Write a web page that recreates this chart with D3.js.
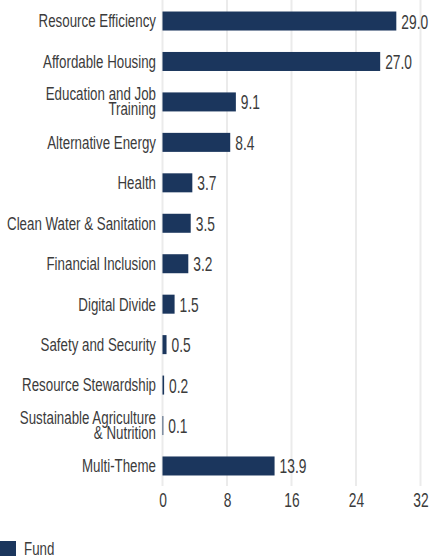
<!DOCTYPE html>
<html>
  <meta charset="utf-8" />
  <head>
    <script src="https://d3js.org/d3.v7.min.js"></script>
    <style>
      body {
        margin: 0;
        background: #fff;
      }
      svg text {
        font-family: "Liberation Sans", Arial, sans-serif;
        fill: #3b3b3b;
      }
    </style>
  </head>
  <body>
    <svg id="chart" width="431" height="556"></svg>

    <script>
      // sector labels, "\n" splits a label onto two lines
      const sectors = [
        "Resource Efficiency",
        "Affordable Housing",
        "Education and Job\nTraining",
        "Alternative Energy",
        "Health",
        "Clean Water & Sanitation",
        "Financial Inclusion",
        "Digital Divide",
        "Safety and Security",
        "Resource Stewardship",
        "Sustainable Agriculture\n& Nutrition",
        "Multi-Theme",
      ];
      const fundValues = [29.0, 27.0, 9.1, 8.4, 3.7, 3.5, 3.2, 1.5, 0.5, 0.2, 0.1, 13.9];
      const xTicks = [0, 8, 16, 24, 32];
      const seriesName = "Fund";

      const barColor = "#1b365d";
      // no condensed face installed, so squeeze text horizontally
      const squeeze = 0.69;
      const squeezeLabel = 0.72;

      const svg = d3.select("#chart");

      const x = d3.scaleLinear().domain([0, 32]).range([162.5, 420.5]);
      const y = d3
        .scaleBand()
        .domain(sectors)
        .range([1, 486])
        .paddingInner(0.53)
        .paddingOuter(0.26);

      // gridlines
      svg
        .append("g")
        .selectAll("line")
        .data(xTicks)
        .enter()
        .append("line")
        .attr("x1", (d) => x(d))
        .attr("x2", (d) => x(d))
        .attr("y1", 0)
        .attr("y2", 486)
        .attr("stroke", "#ebebeb")
        .attr("stroke-width", 2);

      // x axis labels
      const xAxis = svg
        .append("g")
        .attr("transform", "translate(0,486)")
        .attr("font-family", null)
        .attr("font-size", null)
        .call(d3.axisBottom(x).tickValues(xTicks).tickSize(0));
      xAxis.select(".domain").remove();
      xAxis
        .selectAll("text")
        .attr("y", 0)
        .attr("dy", null)
        .attr("font-size", 20)
        .attr("transform", `translate(0,20.5) scale(${squeeze},1)`);

      // bars
      svg
        .append("g")
        .selectAll("rect")
        .data(fundValues)
        .enter()
        .append("rect")
        .attr("x", x(0))
        .attr("y", (d, i) => y(sectors[i]))
        .attr("width", (d) => x(d) - x(0))
        .attr("height", y.bandwidth())
        .attr("fill", barColor);

      // value labels
      svg
        .append("g")
        .selectAll("text")
        .data(fundValues)
        .enter()
        .append("text")
        .attr("font-size", 20)
        .attr(
          "transform",
          (d, i) =>
            `translate(${x(d) + 5},${y(sectors[i]) + y.bandwidth() / 2 + 7.5}) scale(${squeeze},1)`
        )
        .text((d) => d.toFixed(1));

      // category labels
      const cat = svg
        .append("g")
        .selectAll("text")
        .data(sectors)
        .enter()
        .append("text")
        .attr("text-anchor", "end")
        .attr("font-size", 18.5)
        .attr(
          "transform",
          (d) => `translate(156,${y(d) + y.bandwidth() / 2}) scale(${squeezeLabel},1)`
        );

      cat.each(function (d) {
        const lines = d.split("\n");
        const t = d3.select(this);
        const first = lines.length === 1 ? 6.4 : -2;
        lines.forEach((ln, k) => {
          t.append("tspan")
            .attr("x", 0)
            .attr("dy", k === 0 ? first : 15)
            .text(ln);
        });
      });

      // legend
      const legend = svg.append("g").attr("transform", "translate(0,541)");
      legend
        .append("rect")
        .attr("x", 0)
        .attr("y", 0)
        .attr("width", 16)
        .attr("height", 16)
        .attr("fill", barColor);
      legend
        .append("text")
        .attr("font-size", 18.5)
        .attr("transform", `translate(24,14) scale(${squeezeLabel},1)`)
        .text(seriesName);
    </script>
  </body>
</html>
